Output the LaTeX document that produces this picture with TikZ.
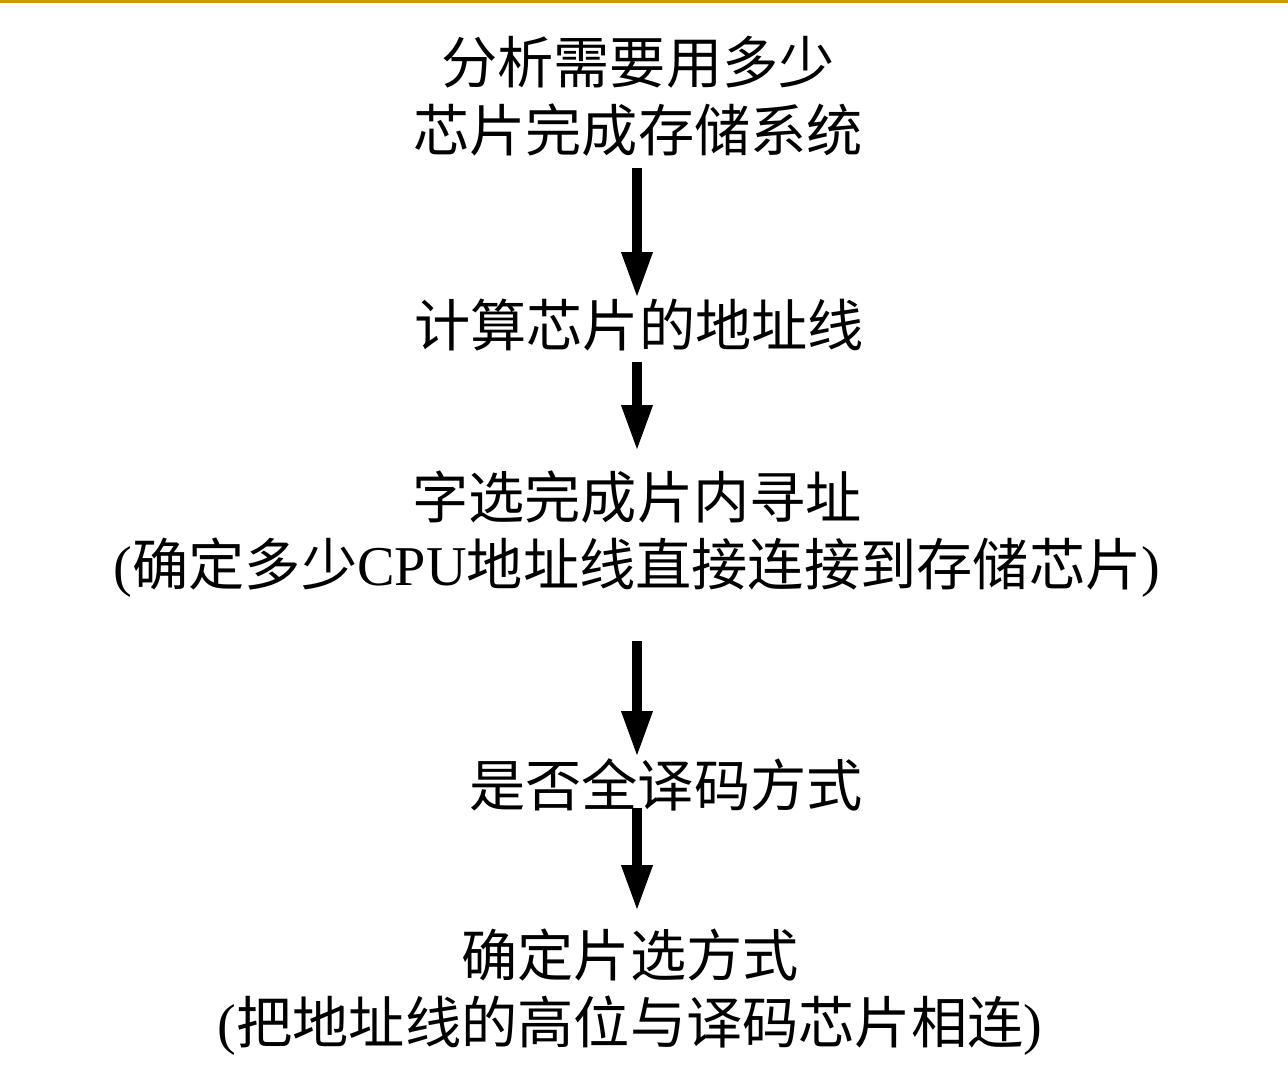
\documentclass[tikz,border=0pt]{standalone}
\usepackage{fontspec}
\setmainfont{Liberation Serif}
\newfontfamily\cjk{Noto Sans CJK SC}
\usetikzlibrary{arrows.meta}
\definecolor{topgold}{HTML}{CC9900}
\tikzset{
  px/.style={x=0.02cm,y=-0.02cm},
  txt/.style={align=center,inner sep=0pt,font={\fontsize{32}{38.5}\selectfont}},
  bigarrow/.style={line width=0.19cm,-{Triangle[width=0.58cm,length=0.92cm]}}
}
\begin{document}
\begin{tikzpicture}[px]
\useasboundingbox (0,0) rectangle (1288,1082);
\fill[topgold] (0,0) rectangle (1288,3);
\node[txt] (b1) at (638,96) {{\cjk 分析需要用多少}\\{\cjk 芯片完成存储系统}};
\node[txt] (b2) at (639,325) {{\cjk 计算芯片的地址线}};
\node[txt] (b3) at (637,534) {{\cjk 字选完成片内寻址}\\({\cjk 确定多少}CPU{\cjk 地址线直接连接到存储芯片})};
\node[txt] (b4) at (666,785) {{\cjk 是否全译码方式}};
\node[txt] (b5) at (630,992) {{\cjk 确定片选方式}\\({\cjk 把地址线的高位与译码芯片相连})};
\coordinate (a1s) at (637,168); \coordinate (a1e) at (637,298);
\coordinate (a2s) at (637,362); \coordinate (a2e) at (637,451);
\coordinate (a3s) at (637,641); \coordinate (a3e) at (637,757);
\coordinate (a4s) at (637,808); \coordinate (a4e) at (637,911);
\draw[bigarrow] (a1s) -- (a1e);
\draw[bigarrow] (a2s) -- (a2e);
\draw[bigarrow] (a3s) -- (a3e);
\draw[bigarrow] (a4s) -- (a4e);
\end{tikzpicture}
\end{document}
